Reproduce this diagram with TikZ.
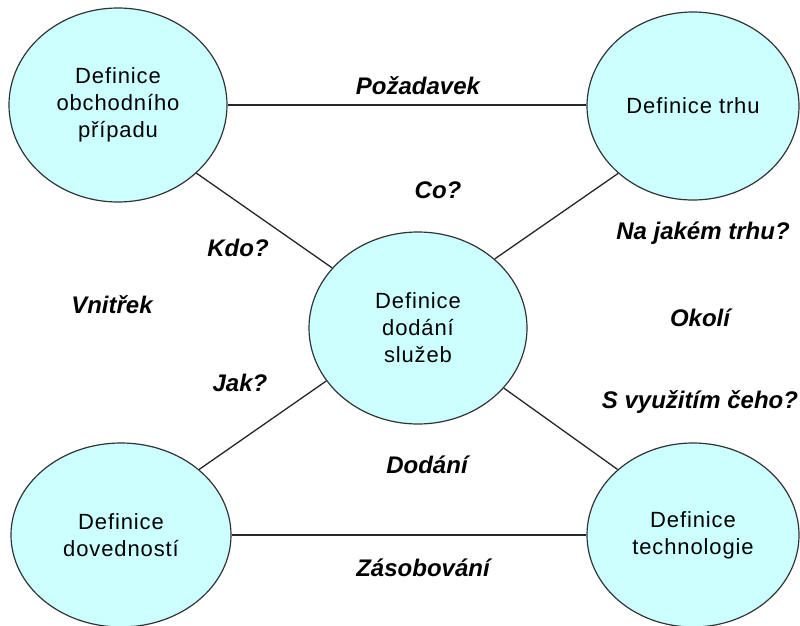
\documentclass[tikz,border=0pt]{standalone}
\usepackage{fontspec}
\setmainfont{Liberation Sans}
\newfontfamily\nodefont[LetterSpace=4]{Liberation Sans}
\usetikzlibrary{shapes.geometric}
\definecolor{bubble}{HTML}{CCFFFF}
\definecolor{rim}{HTML}{333333}
\tikzset{
  bubble/.style={ellipse, draw=rim, line width=1.2pt, fill=bubble, inner sep=0pt,
    align=center, font=\nodefont\fontsize{22}{27}\selectfont},
  lbl/.style={font=\fontsize{24}{28}\selectfont\bfseries\itshape, inner sep=0pt},
  link/.style={draw=black!85, line width=1.3pt}
}
\begin{document}
\begin{tikzpicture}[x=1pt,y=-1pt]
\useasboundingbox (0,0) rectangle (800,626);
\node[bubble, minimum width=218pt, minimum height=194pt] (tl) at (118,105) {Definice\\obchodního\\případu};
\node[bubble, minimum width=212pt, minimum height=188pt] (tr) at (693,106) {Definice trhu};
\node[bubble, minimum width=218pt, minimum height=192pt] (c) at (418,328) {Definice\\dodání\\služeb};
\node[bubble, minimum width=220pt, minimum height=184pt] (bl) at (121,535) {Definice\\dovedností};
\node[bubble, minimum width=212pt, minimum height=184pt] (br) at (693,535) {Definice\\technologie};

\draw[link] (tl.east) -- (tl.east -| tr.west);
\draw[link] (bl.east) -- (br.west);
\draw[link] (tl.-41) -- (c.145);
\draw[link] (c.42) -- (tr.222);
\draw[link] (c.210) -- (bl.40);
\draw[link] (c.-35) -- (br.139);

\node[lbl] (pozadavek) at (418,86) {Požadavek};
\node[lbl] (co) at (438,190) {Co?};
\node[lbl] (kdo) at (238,248) {Kdo?};
\node[lbl] (vnitrek) at (112,305) {Vnitřek};
\node[lbl] (jak) at (240,383) {Jak?};
\node[lbl] (najakem) at (703,233) {Na jakém trhu?};
\node[lbl] (okoli) at (700,318) {Okolí};
\node[lbl] (svyuzitim) at (700,402) {S využitím čeho?};
\node[lbl] (dodani) at (427,465) {Dodání};
\node[lbl] (zasobovani) at (423,568) {Zásobování};
\end{tikzpicture}
\end{document}
